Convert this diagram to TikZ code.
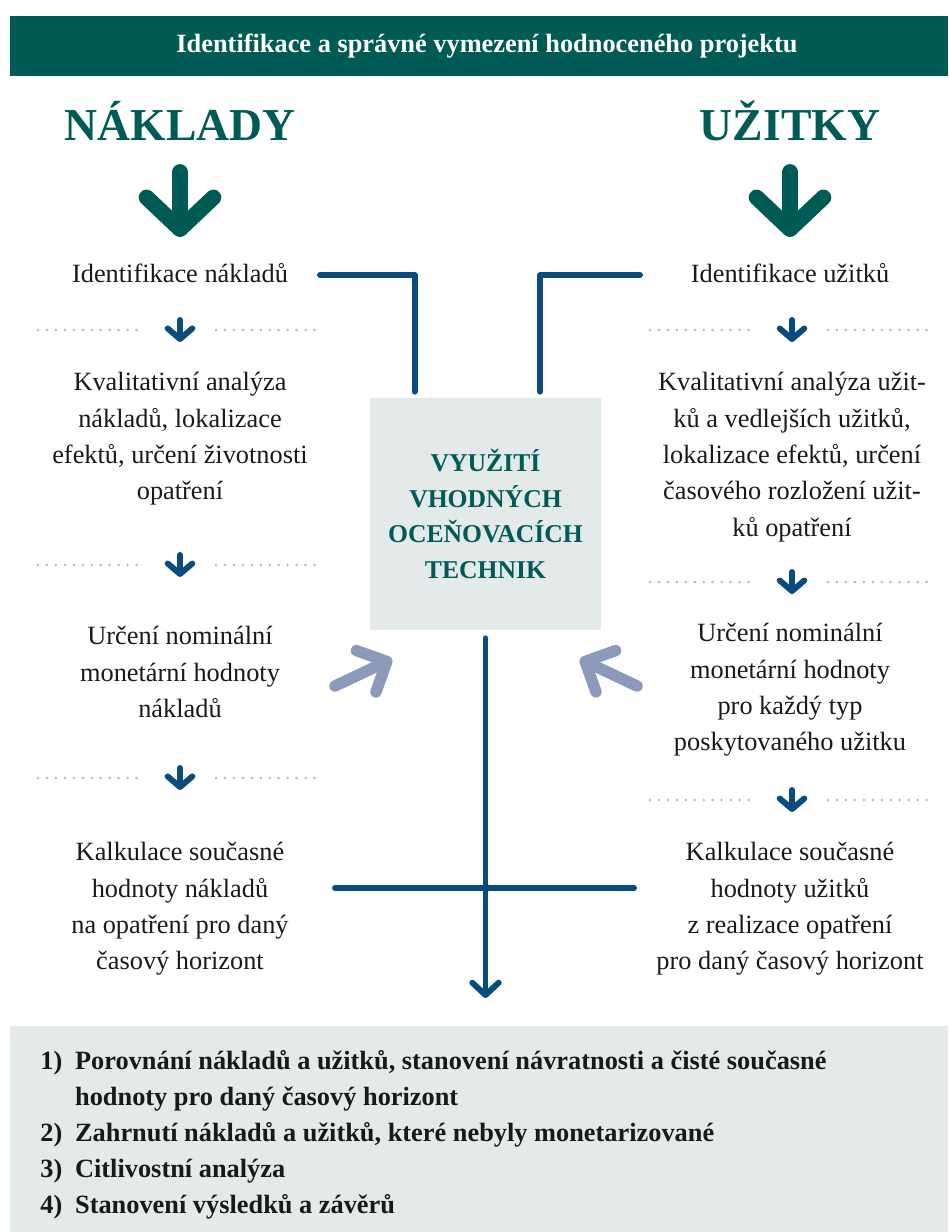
\documentclass[tikz,border=0pt]{standalone}
\usepackage{fontspec}
\setmainfont{Liberation Serif}
\usetikzlibrary{arrows.meta,calc}

\definecolor{zelena}{HTML}{005B55}
\definecolor{modra}{HTML}{0B4C7F}
\definecolor{sedomodra}{HTML}{8B9ABB}
\definecolor{seda}{HTML}{E4E9E9}
\definecolor{tecky}{HTML}{BDBDBD}

\tikzset{
  popis/.style={align=center, inner sep=0pt, text=black!90, font=\fontsize{15}{20.7}\selectfont},
  nadpis/.style={inner sep=0pt, text=zelena, font=\bfseries\fontsize{26}{30}\selectfont},
  spoj/.style={modra, line width=3.4pt, line cap=round, line join=round},
  sipka/.style={sedomodra, line width=6.5pt, line cap=round, -{Straight Barb[length=13pt,width=26pt,round]}},
  velkasipka/.style={zelena, line width=9pt, line cap=round, -{Straight Barb[length=18pt,width=38pt,round]}},
  teckovane/.style={tecky, line width=1.7pt, line cap=round, dash pattern=on 0pt off 5.1pt},
}

% oddelovac s malou sipkou
\newcommand{\oddel}[2]{
  \draw[teckovane] ({#1-142},#2) -- ({#1-37},#2);
  \draw[teckovane] ({#1+36},#2) -- ({#1+141},#2);
  \draw[spoj, -{Straight Barb[length=6pt,width=14pt,round]}] (#1,{#2-10}) -- (#1,{#2+12});
}

\begin{document}
\begin{tikzpicture}[x=0.02cm, y=-0.02cm]
  \useasboundingbox (0,0) rectangle (948,1232);
  % hlavicka
  \fill[zelena] (10,16) rectangle (948,76);
  \node[text=white, font=\bfseries\fontsize{15}{18}\selectfont] (hlavicka) at (487,46)
    {Identifikace a správné vymezení hodnoceného projektu};
  % nadpisy
  \node[nadpis] (naklady) at (180,121) {NÁKLADY};
  \node[nadpis] (uzitky) at (790,121) {UŽITKY};
  \draw[velkasipka] (180,172) -- (180,237);
  \draw[velkasipka] (790,172) -- (790,237);

  % naklady
  \node[popis] (nl0) at (180,273) {Identifikace nákladů};
  \oddel{180}{330}
  \node[popis] (nl1) at (180,439) {Kvalitativní analýza\\nákladů, lokalizace\\efektů, určení životnosti\\opatření};
  \oddel{180}{565}
  \node[popis] (nl2) at (180,672) {Určení nominální\\monetární hodnoty\\nákladů};
  \oddel{180}{778}
  \node[popis] (nl3) at (180,909) {Kalkulace současné\\hodnoty nákladů\\na opatření pro daný\\časový horizont};

  % uzitky
  \node[popis] (nr0) at (790,273) {Identifikace užitků};
  \oddel{792}{330}
  \node[popis] (nr1) at (792,457) {Kvalitativní analýza užit-\\ků a vedlejších užitků,\\lokalizace efektů, určení\\časového rozložení užit-\\ků opatření};
  \oddel{792}{582}
  \node[popis] (nr2) at (790,690) {Určení nominální\\monetární hodnoty\\pro každý typ\\poskytovaného užitku};
  \oddel{792}{800}
  \node[popis] (nr3) at (790,909) {Kalkulace současné\\hodnoty užitků\\z realizace opatření\\pro daný časový horizont};

  % stred
  \node[fill=seda, minimum width=4.62cm, minimum height=4.64cm, align=center, text=zelena,
    font=\bfseries\fontsize{14.6}{20.4}\selectfont] (box) at (485.5,514)
    {VYUŽITÍ\\VHODNÝCH\\OCEŇOVACÍCH\\TECHNIK};

  % spojnice
  \coordinate (kl) at (320,275);
  \coordinate (kr) at (640,275);
  \draw[spoj] (kl) -| ($(box.north west)+(45,-6)$);
  \draw[spoj] (kr) -| ($(box.north east)+(-61,-6)$);
  \coordinate (hl) at (335,888);
  \coordinate (hr) at (634,888);
  \coordinate (dolu) at (485.5,998);
  \draw[spoj] (hl) -- (hr);
  \draw[spoj, -{Straight Barb[length=7pt,width=15pt,round]}] ($(box.south)+(0,8)$) -- (dolu);

  % sipky ke stredu
  \coordinate (s1) at (335,686);
  \coordinate (s1k) at (392,659);
  \coordinate (s2) at (637,686);
  \coordinate (s2k) at (580,659);
  \draw[sipka] (s1) -- (s1k);
  \draw[sipka] (s2) -- (s2k);

  % zaver
  \fill[seda] (10,1026) rectangle (948,1232);
  \node[anchor=north west, inner sep=0pt, align=left, text=black!90,
    font=\bfseries\fontsize{15}{20.5}\selectfont] (zaver) at (40,1050)
    {\makebox[19.8pt][l]{1)}Porovnání nákladů a užitků, stanovení návratnosti a čisté současné\\
     \hspace*{19.8pt}hodnoty pro daný časový horizont\\
     \makebox[19.8pt][l]{2)}Zahrnutí nákladů a užitků, které nebyly monetarizované\\
     \makebox[19.8pt][l]{3)}Citlivostní analýza\\
     \makebox[19.8pt][l]{4)}Stanovení výsledků a závěrů};
\end{tikzpicture}
\end{document}
